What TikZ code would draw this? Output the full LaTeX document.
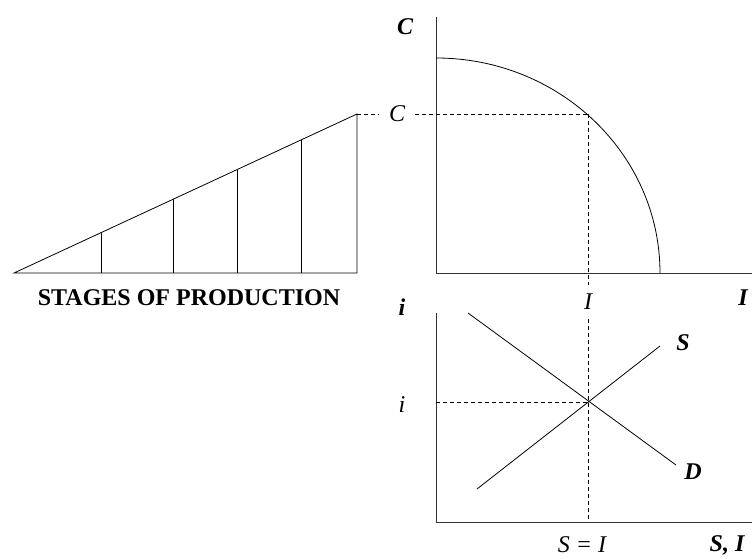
\documentclass[tikz,border=0pt]{standalone}
\usepackage{fontspec}
\setmainfont{Liberation Serif}
\usetikzlibrary{calc}

\begin{document}
\begin{tikzpicture}[
  x=1pt, y=-1pt,
  axis/.style={line width=1pt, black!80},
  curve/.style={line width=0.8pt},
  guide/.style={line width=0.7pt, dash pattern=on 4pt off 3pt},
  lbl/.style={font=\fontsize{24}{24}\selectfont\itshape, inner sep=1pt},
  blbl/.style={font=\fontsize{24}{24}\selectfont\bfseries\itshape, inner sep=1pt},
  gaplbl/.style={lbl, inner xsep=10pt, inner ysep=9pt}
]
\useasboundingbox (0,0) rectangle (752,559);

% stages of production
\coordinate (base0) at (14,273);
\coordinate (base1) at (357,273);
\coordinate (top)   at (357,114);
\draw[curve] (base0) -- (base1) -- (top) -- cycle;
\foreach \t [count=\k] in {0.2536,0.4636,0.650,0.8367} {
  \coordinate (stage\k) at ($(base0)!\t!(top)$);
  \draw[curve] (stage\k) -- (stage\k |- base0);
}
\node[font=\fontsize{24}{24}\selectfont\bfseries] (stages) at (189,298) {STAGES OF PRODUCTION};

% production possibilities frontier
\coordinate (O1)   at (436,273);
\coordinate (Ctop) at (436,17);
\coordinate (Iend) at (752,273);
\draw[axis] (Ctop) -- (O1) -- (Iend);
\draw[curve] (436,58) arc[start angle=90, end angle=0, x radius=224pt, y radius=215pt];
\coordinate (Cpt) at (588,114);
\node[blbl] (Caxis) at (405,27) {C};
\node[blbl] (Iaxis) at (743,298) {I};
\node[gaplbl] (Clab) at (397,114) {C};
\node[gaplbl] (Ilab) at (588,302) {I};
\draw[guide] (top) -- (Clab);
\draw[guide] (Clab) -- (Cpt);
\draw[guide] (Cpt) -- (Ilab);

% loanable funds market
\coordinate (O2)   at (436,522);
\coordinate (itop) at (436,313);
\coordinate (SIend) at (752,522);
\draw[axis] (itop) -- (O2) -- (SIend);
\coordinate (D0) at (468,313);
\coordinate (D1) at (676,465);
\coordinate (S0) at (477,489);
\coordinate (S1) at (660,346);
\draw[curve] (D0) -- (D1);
\draw[curve] (S0) -- (S1);
\coordinate (E) at (588,402);
\coordinate (Ibase) at (588,522);
\node[blbl] (iaxis) at (402,307) {i};
\node[lbl] (ilab) at (402,405) {i};
\node[blbl] (Slab) at (683,343) {S};
\node[blbl] (Dlab) at (693,472) {D};
\node[lbl] (SIlab) at (582,545) {S = I};
\node[blbl] (SIaxis) at (727,545) {S, I};
\draw[guide] (O2 |- E) -- (E);
\draw[guide] (Ilab) -- (Ibase);
\end{tikzpicture}
\end{document}
